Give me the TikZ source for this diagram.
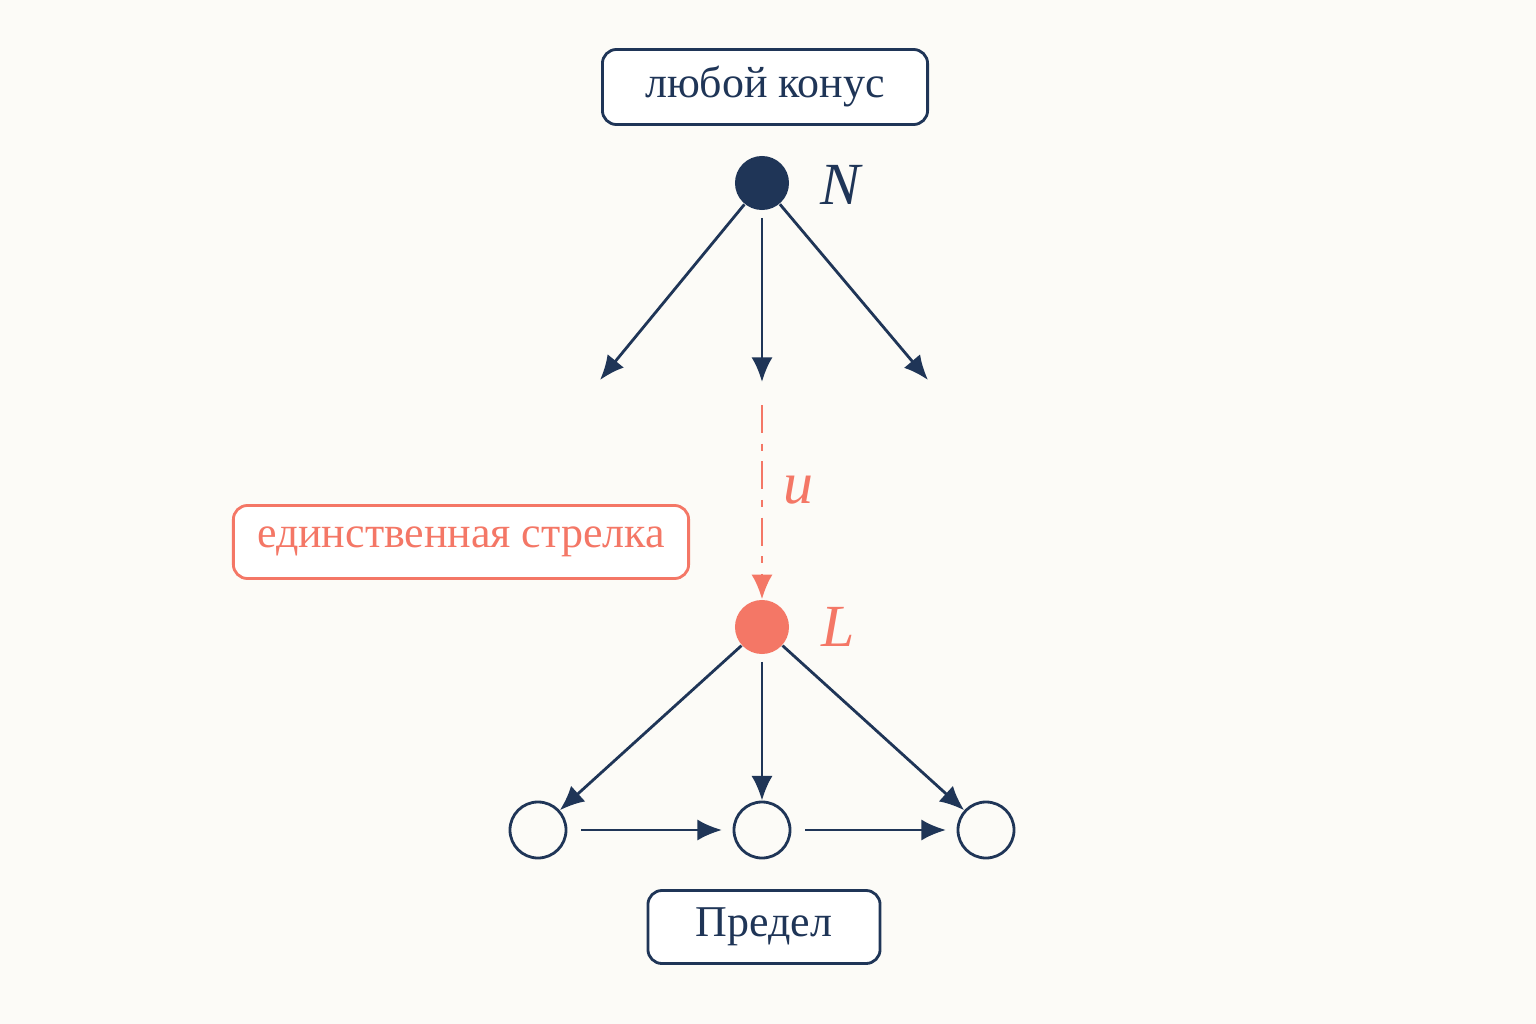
\documentclass[tikz,border=0pt]{standalone}
\usepackage{fontspec}
\setmainfont{Liberation Serif}
\usetikzlibrary{positioning,arrows.meta,shapes}
\definecolor{navy}{HTML}{1F3557}
\definecolor{coral}{HTML}{F47766}
\definecolor{paper}{HTML}{FCFBF7}
\begin{document}
\begin{tikzpicture}[x=0.01cm, y=-0.01cm,
	lbl/.style={draw=navy, thick, rounded corners=4pt, fill=white, text=navy, font=\fontsize{12.5}{14}\selectfont, inner sep=0pt},
	dot/.style={circle, minimum size=0.54cm, inner sep=0pt},
	obj/.style={circle, draw=navy, thick, minimum size=0.56cm, inner sep=0pt},
	arr/.style={navy, thick, -{Latex[length=7pt,width=6pt]}}]
	\fill[paper] (0,0) rectangle (1536,1024);
	\begin{scope}[every node/.style={}]
		\node[lbl, minimum width=3.25cm, minimum height=0.75cm] (cone) at (765,87) {любой конус};
		\node[dot, fill=navy] (N) at (762,183) {};
		\node[text=navy, font=\fontsize{17}{20}\selectfont\itshape] at (840,185) {N};
		\coordinate (a1) at (600,380);
		\coordinate (a2) at (762,382);
		\coordinate (a3) at (928,380);
		\coordinate (u0) at (762,405);
		\node[dot, fill=coral] (L) at (762,627) {};
		\node[text=coral, font=\fontsize{17}{20}\selectfont\itshape] at (838,627) {L};
		\node[text=coral, font=\fontsize{17}{20}\selectfont\itshape] (ulbl) at (798,490) {u};
		\node[lbl, draw=coral, text=coral, minimum width=4.55cm, minimum height=0.73cm] (uniq) at (461,542) {единственная стрелка};
		\node[obj] (d1) at (538,830) {};
		\node[obj] (d2) at (762,830) {};
		\node[obj] (d3) at (986,830) {};
		\node[lbl, minimum width=2.32cm, minimum height=0.73cm] (lim) at (764,927) {Предел};
	\end{scope}
	% cone from N
	\draw[arr] (N) -- (a1);
	\draw[arr, shorten <=2pt] (N) -- (a2);
	\draw[arr] (N) -- (a3);
	% unique arrow
	\draw[coral, thick, dash pattern=on 8pt off 3pt on 2pt off 3pt, -{Latex[length=7pt,width=6pt]}] (u0) -- (L);
	% limit cone
	\draw[arr] (L) -- (d1);
	\draw[arr, shorten <=2pt] (L) -- (d2);
	\draw[arr] (L) -- (d3);
	\draw[arr, shorten <=4pt, shorten >=3pt] (d1) -- (d2);
	\draw[arr, shorten <=4pt, shorten >=3pt] (d2) -- (d3);
\end{tikzpicture}
\end{document}
